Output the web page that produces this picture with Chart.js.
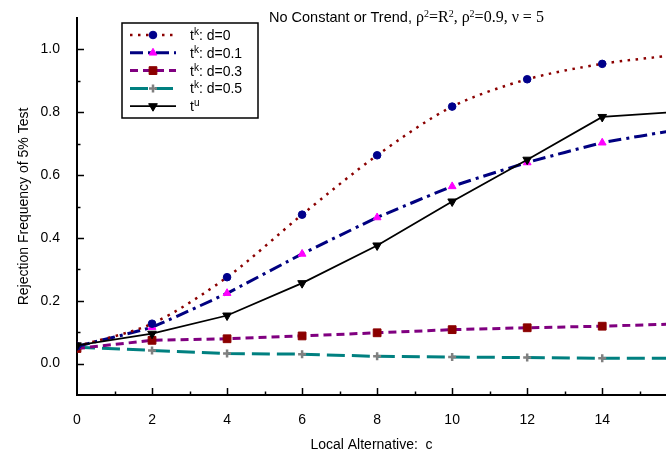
<!DOCTYPE html>
<html>
<head>
<meta charset="utf-8">
<script src="https://cdn.jsdelivr.net/npm/chart.js@4.4.1/dist/chart.umd.min.js"></script>
<style>
    html, body { margin: 0; padding: 0; background: #fff; }
</style>
</head>
<body>
<canvas id="chart" width="666" height="451"></canvas>
<script>
// Local alternative c (x values)
const cValues = [0, 2, 4, 6, 8, 10, 12, 14, 16];

// Rejection frequencies
const tkD0  = [0.055, 0.127, 0.275, 0.474, 0.663, 0.818, 0.905, 0.954, 0.983];
const tkD01 = [0.055, 0.116, 0.224, 0.349, 0.465, 0.564, 0.640, 0.703, 0.744];
const tkD03 = [0.048, 0.074, 0.079, 0.088, 0.098, 0.108, 0.114, 0.119, 0.126];
const tkD05 = [0.052, 0.042, 0.032, 0.030, 0.023, 0.021, 0.019, 0.017, 0.017];
const tuVals = [0.058, 0.095, 0.153, 0.256, 0.376, 0.516, 0.649, 0.785, 0.801];

// legend names: base, superscript, rest
const seriesBase = ['t', 't', 't', 't', 't'];
const seriesSup = ['k', 'k', 'k', 'k', 'u'];
const seriesRest = [': d=0', ': d=0.1', ': d=0.3', ': d=0.5', ''];

// tick labels
const xTickLabels = ['0', '2', '4', '6', '8', '10', '12', '14'];
const yTickLabels = ['0.0', '0.2', '0.4', '0.6', '0.8', '1.0'];

const SANS = "'Liberation Sans', Arial, sans-serif";
const SERIF = "'Liberation Serif', 'Times New Roman', serif";

function toPoints(vals) {
    return cValues.map((c, i) => ({ x: c, y: vals[i] }));
}

// draw text made of pieces, some of them raised
function drawRich(ctx, parts, x, y) {
    ctx.textBaseline = 'alphabetic';
    ctx.textAlign = 'left';
    parts.forEach(p => {
        ctx.font = p.font;
        ctx.fillText(p.t, x, y - (p.sup ? 5 : 0));
        x += ctx.measureText(p.t).width;
    });
    return x;
}

// no extra room for half labels at the axis ends
function fixPadding(s) {
    s.paddingLeft = 0;
    s.paddingRight = 0;
    s.paddingTop = 0;
    s.paddingBottom = 0;
}

const decoPlugin = {
    id: 'deco',
    beforeDatasetsDraw(chart) {
        // inward tick marks, long on labelled ticks
        const ctx = chart.ctx;
        const area = chart.chartArea;
        const xs = chart.scales.x, ys = chart.scales.y;
        ctx.save();
        ctx.strokeStyle = '#000';
        ctx.lineWidth = 1.5;
        xs.ticks.forEach(t => {
            if (t.value <= xs.min || t.value >= xs.max) return;
            const px = Math.round(xs.getPixelForValue(t.value)) + 0.5;
            const len = t.label ? 7 : 3.5;
            ctx.beginPath();
            ctx.moveTo(px, area.bottom);
            ctx.lineTo(px, area.bottom - len);
            ctx.stroke();
        });
        ys.ticks.forEach(t => {
            if (t.value <= ys.min + 1e-6 || t.value >= ys.max - 1e-6) return;
            const py = Math.round(ys.getPixelForValue(t.value)) + 0.5;
            const len = t.label ? 7 : 3.5;
            ctx.beginPath();
            ctx.moveTo(area.left, py);
            ctx.lineTo(area.left + len, py);
            ctx.stroke();
        });
        ctx.restore();
    },
    afterDraw(chart) {
        const ctx = chart.ctx;
        ctx.save();
        ctx.fillStyle = '#000';

        // title, mixed sans and serif
        const f1 = '14.5px ' + SANS, f2 = '16px ' + SERIF, fs = '10px ' + SERIF;
        drawRich(ctx, [
            { t: 'No Constant or Trend, ', font: f1 },
            { t: '\u03c1', font: f2 }, { t: '2', font: fs, sup: true },
            { t: '=R', font: f2 }, { t: '2', font: fs, sup: true },
            { t: ', \u03c1', font: f2 }, { t: '2', font: fs, sup: true },
            { t: '=0.9, \u03bd = 5', font: f2 }
        ], 269, 22);

        // legend box
        const bx = 122, by = 23, bw = 136, bh = 95;
        ctx.fillStyle = '#fff';
        ctx.fillRect(bx, by, bw, bh);
        ctx.strokeStyle = '#000';
        ctx.lineWidth = 1.5;
        ctx.strokeRect(bx, by, bw, bh);

        chart.data.datasets.forEach((ds, i) => {
            const y = 35 + i * 17.8;
            ctx.save();
            ctx.strokeStyle = ds.borderColor;
            ctx.lineWidth = ds.borderWidth;
            ctx.setLineDash(ds.borderDash || []);
            ctx.beginPath();
            ctx.moveTo(130, y);
            ctx.lineTo(176, y);
            ctx.stroke();
            ctx.restore();

            ctx.save();
            ctx.fillStyle = ds.pointBackgroundColor;
            ctx.strokeStyle = ds.pointBorderColor;
            ctx.lineWidth = ds.pointBorderWidth;
            Chart.helpers.drawPoint(ctx, {
                pointStyle: ds.pointStyle,
                rotation: ds.pointRotation || 0,
                radius: ds.pointRadius,
                borderWidth: ds.pointBorderWidth
            }, 153, y);
            ctx.restore();

            ctx.fillStyle = '#000';
            drawRich(ctx, [
                { t: seriesBase[i], font: '14px ' + SANS },
                { t: seriesSup[i], font: '10px ' + SANS, sup: true },
                { t: seriesRest[i], font: '14px ' + SANS }
            ], 190, y + 5);
        });
        ctx.restore();
    }
};

const ctx = document.getElementById('chart').getContext('2d');

new Chart(ctx, {
    type: 'line',
    data: {
        datasets: [
            {
                data: toPoints(tkD0),
                borderColor: '#8b0000',
                borderWidth: 2.5,
                borderDash: [2.5, 5.5],
                tension: 0.3,
                pointStyle: 'circle',
                pointRadius: 3.8,
                pointBackgroundColor: '#00008b',
                pointBorderColor: '#00008b',
                pointBorderWidth: 1,
                order: 1
            },
            {
                data: toPoints(tkD01),
                borderColor: '#000080',
                borderWidth: 3,
                borderDash: [13, 5, 3, 5],
                tension: 0.1,
                pointStyle: 'triangle',
                pointRadius: 4.5,
                pointBackgroundColor: '#ff00ff',
                pointBorderColor: '#ff00ff',
                pointBorderWidth: 1,
                order: 2
            },
            {
                data: toPoints(tkD03),
                borderColor: '#800080',
                borderWidth: 3,
                borderDash: [8, 5],
                tension: 0,
                pointStyle: 'rect',
                pointRadius: 5.5,
                pointBackgroundColor: '#8b0000',
                pointBorderColor: '#8b0000',
                pointBorderWidth: 1,
                order: 3
            },
            {
                data: toPoints(tkD05),
                borderColor: '#008080',
                borderWidth: 3,
                borderDash: [18, 7],
                tension: 0,
                pointStyle: 'cross',
                pointRadius: 4,
                pointBackgroundColor: '#808080',
                pointBorderColor: '#808080',
                pointBorderWidth: 2.5,
                order: 4
            },
            {
                data: toPoints(tuVals),
                borderColor: '#000',
                borderWidth: 1.8,
                tension: 0,
                pointStyle: 'triangle',
                pointRotation: 180,
                pointRadius: 5,
                pointBackgroundColor: '#000',
                pointBorderColor: '#000',
                pointBorderWidth: 1,
                order: 0
            }
        ]
    },
    options: {
        responsive: false,
        animation: false,
        devicePixelRatio: 1,
        layout: { autoPadding: false, padding: { top: 18, left: 0, right: 0, bottom: 0 } },
        plugins: {
            legend: { display: false },
            title: { display: false },
            tooltip: { enabled: false }
        },
        scales: {
            x: {
                type: 'linear',
                min: 0,
                max: 15.7,
                afterFit: s => { s.height = 56; fixPadding(s); },
                afterBuildTicks: s => {
                    const t = [];
                    for (let v = 0; v <= 15; v++) t.push({ value: v });
                    s.ticks = t;
                },
                grid: { display: true, drawOnChartArea: false, drawTicks: false },
                border: { display: true, color: '#000', width: 2 },
                ticks: {
                    autoSkip: false,
                    maxRotation: 0,
                    padding: 17,
                    color: '#000',
                    font: { family: SANS, size: 14 },
                    callback: v => xTickLabels.includes(String(v)) ? String(v) : ''
                },
                title: {
                    display: true,
                    text: 'Local Alternative:  c',
                    color: '#000',
                    font: { family: SANS, size: 14 },
                    padding: { top: 0, bottom: -3 }
                }
            },
            y: {
                min: -0.1,
                max: 1.1,
                afterFit: s => { s.width = 77; fixPadding(s); },
                afterBuildTicks: s => {
                    const t = [];
                    for (let i = -1; i <= 11; i++) t.push({ value: i / 10 });
                    s.ticks = t;
                },
                grid: { display: true, drawOnChartArea: false, drawTicks: false },
                border: { display: true, color: '#000', width: 2 },
                ticks: {
                    autoSkip: false,
                    padding: 17,
                    color: '#000',
                    font: { family: SANS, size: 14 },
                    callback: v => yTickLabels.find(l => Math.abs(parseFloat(l) - v) < 1e-6) || ''
                },
                title: {
                    display: true,
                    text: 'Rejection Frequency of 5% Test',
                    color: '#000',
                    font: { family: SANS, size: 14 },
                    padding: { top: 16, bottom: 0 }
                }
            }
        }
    },
    plugins: [decoPlugin]
});
</script>
</body>
</html>
